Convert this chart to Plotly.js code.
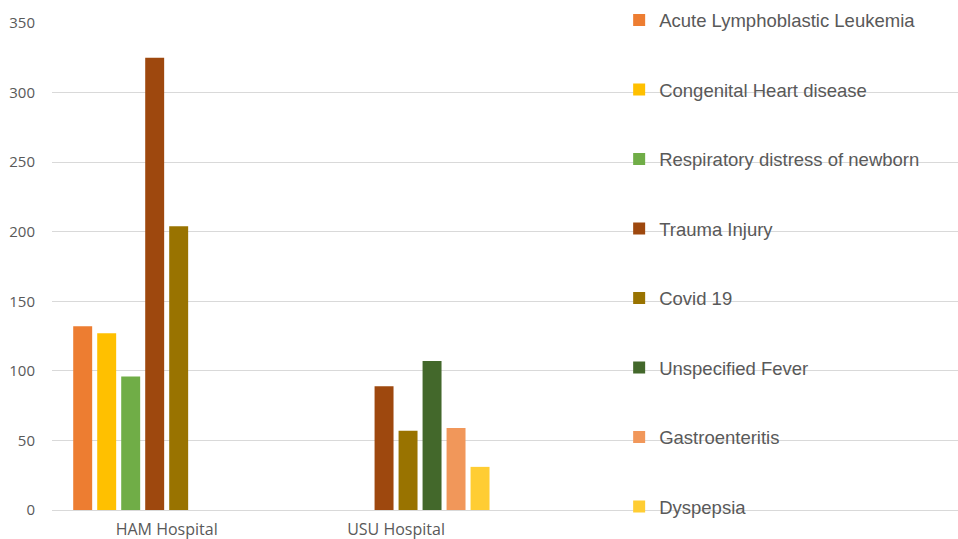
<!DOCTYPE html>
<html>
<head>
<meta charset="utf-8">
<script src="https://cdn.plot.ly/plotly-3.0.1.min.js"></script>
<style>html,body{margin:0;padding:0;background:#fff;}#chart{width:958px;height:539px;}</style>
</head>
<body>
<div id="chart"></div>
<script>
const categories = ["HAM Hospital", "USU Hospital"];
const seriesNames = [
  "Acute Lymphoblastic Leukemia",
  "Congenital Heart disease",
  "Respiratory distress of newborn",
  "Trauma Injury",
  "Covid 19",
  "Unspecified Fever",
  "Gastroenteritis",
  "Dyspepsia"
];
const acuteLymphoblasticLeukemia = [132, null];
const congenitalHeartDisease = [127, null];
const respiratoryDistress = [96, null];
const traumaInjury = [325, 89];
const covid19 = [204, 57];
const unspecifiedFever = [null, 107];
const gastroenteritis = [null, 59];
const dyspepsia = [null, 31];
const yTicks = [0, 50, 100, 150, 200, 250, 300, 350];

const seriesValues = [acuteLymphoblasticLeukemia, congenitalHeartDisease, respiratoryDistress,
  traumaInjury, covid19, unspecifiedFever, gastroenteritis, dyspepsia];
const colors = ["#ED7D31", "#FFC000", "#70AD47", "#9E480E", "#997300", "#43682B", "#F1975A", "#FFCD33"];

const traces = seriesNames.map((name, i) => ({
  type: "bar",
  name: name,
  x: categories,
  y: seriesValues[i],
  legendgroup: "g" + i,
  marker: {color: colors[i], line: {width: 0}},
  hoverinfo: "x+y+name"
}));

const layout = {
  width: 958,
  height: 539,
  margin: {l: 52, r: 0, t: 22.5, b: 28.5, pad: 0},
  paper_bgcolor: "#ffffff",
  plot_bgcolor: "#ffffff",
  barmode: "group",
  bargap: 0.163,
  bargroupgap: 0.21,
  font: {family: "Liberation Sans, Arial, sans-serif", color: "#595959"},
  xaxis: {
    type: "category",
    range: [-0.5, 3.45],
    showgrid: false,
    showline: false,
    zeroline: false,
    ticks: "",
    ticklabelstandoff: 8,
    tickfont: {family: "Open Sans, sans-serif", size: 16, color: "#595959"},
    fixedrange: true
  },
  yaxis: {
    range: [0, 350],
    tickvals: yTicks,
    ticktext: yTicks.map(String),
    showgrid: true,
    gridcolor: "#D9D9D9",
    gridwidth: 1,
    zeroline: true,
    zerolinecolor: "#D9D9D9",
    zerolinewidth: 1,
    showline: false,
    ticks: "",
    ticklabelstandoff: 16,
    tickfont: {family: "Open Sans, sans-serif", size: 15, color: "#595959"},
    fixedrange: true
  },
  showlegend: true,
  legend: {
    x: 0.626,
    xanchor: "left",
    y: 1.044,
    yanchor: "top",
    bgcolor: "rgba(0,0,0,0)",
    font: {family: "Liberation Sans, Arial, sans-serif", size: 18.5, color: "#595959"},
    tracegroupgap: 42.45,
    traceorder: "grouped",
    itemwidth: 30,
    maxheight: 1000
  }
};

Plotly.newPlot("chart", traces, layout, {displayModeBar: false, staticPlot: true});
</script>
</body>
</html>
